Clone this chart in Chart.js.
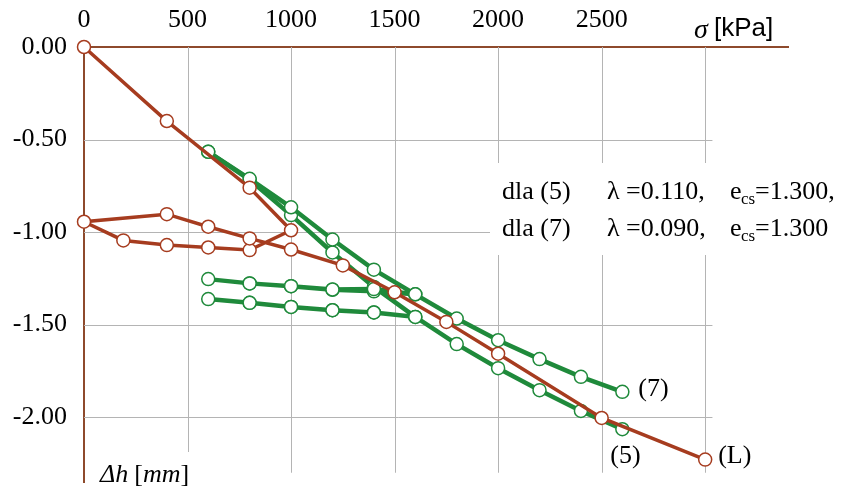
<!DOCTYPE html>
<html>
<head>
<meta charset="utf-8">
<script src="https://cdn.jsdelivr.net/npm/chart.js@4/dist/chart.umd.min.js"></script>
<style>
  html, body { margin: 0; padding: 0; background: #ffffff; }
  #wrap { width: 842px; height: 490px; }
</style>
</head>
<body>
<div id="wrap"><canvas id="c" width="842" height="490"></canvas></div>
<script>
// ---- data ----
// series (L): loading, unloading, reloading
const seriesL_x = [0, 400, 800, 1000, 800, 600, 400, 190, 0, 400, 600, 800, 1000, 1250, 1500, 1750, 2000, 2500, 3000];
const seriesL_y = [0.00, -0.40, -0.76, -0.99, -1.097, -1.083, -1.07, -1.045, -0.944, -0.903, -0.971, -1.034, -1.094, -1.18, -1.325, -1.485, -1.657, -2.004, -2.229];

// series (7)
const series7_x = [600, 800, 1000, 1200, 1400, 1600, 1400, 1200, 1000, 800, 600, 800, 1000, 1200, 1400, 1600, 1800, 2000, 2200, 2400, 2600];
const series7_y = [-0.566, -0.712, -0.866, -1.04, -1.203, -1.336, -1.32, -1.312, -1.292, -1.277, -1.254, -1.277, -1.292, -1.31, -1.308, -1.336, -1.467, -1.584, -1.686, -1.782, -1.863];

// series (5)
const series5_x = [600, 800, 1000, 1200, 1400, 1600, 1400, 1200, 1000, 800, 600, 800, 1000, 1200, 1400, 1600, 1800, 2000, 2200, 2400, 2600];
const series5_y = [-0.566, -0.718, -0.908, -1.11, -1.296, -1.458, -1.434, -1.422, -1.404, -1.382, -1.362, -1.382, -1.404, -1.422, -1.434, -1.458, -1.605, -1.735, -1.854, -1.966, -2.065];

// axis ticks
const xTickLabels = [0, 500, 1000, 1500, 2000, 2500];
const xGridValues = [500, 1000, 1500, 2000, 2500, 3000];
const yTickValues = [0, -0.5, -1.0, -1.5, -2.0];
const yGridValues = [-0.5, -1.0, -1.5, -2.0];

// texts
const seriesNames = ['(L)', '(7)', '(5)'];
const annotationRows = [
  { head: 'dla (5)', lam: '\u03BB =0.110,', e: '=1.300,' },
  { head: 'dla (7)', lam: '\u03BB =0.090,', e: '=1.300' }
];

// ---- styling ----
const BROWN = '#a63c1f';
const GREEN = '#1f8a3b';
const AXIS_BROWN = '#8e4a2c';
const GRID = '#b4b4b4';
const SERIF = "'Liberation Serif', 'Times New Roman', serif";
const SANS = "'Liberation Sans', Arial, sans-serif";

function pts(xs, ys) { return xs.map((x, i) => ({ x: x, y: ys[i] })); }

const decor = {
  id: 'decor',
  beforeDatasetsDraw(chart) {
    const ctx = chart.ctx;
    const xs = chart.scales.x, ys = chart.scales.y;
    ctx.save();
    ctx.strokeStyle = GRID;
    ctx.lineWidth = 1;
    const yTop = ys.getPixelForValue(0);
    const yBot = ys.getPixelForValue(-2.3);
    const xLeft = xs.getPixelForValue(0);
    const xRight = xs.getPixelForValue(3035);
    xGridValues.forEach(v => {
      const px = Math.round(xs.getPixelForValue(v)) + 0.5;
      ctx.beginPath(); ctx.moveTo(px, yTop); ctx.lineTo(px, yBot); ctx.stroke();
    });
    yGridValues.forEach(v => {
      const py = Math.round(ys.getPixelForValue(v)) + 0.5;
      ctx.beginPath(); ctx.moveTo(xLeft, py); ctx.lineTo(xRight, py); ctx.stroke();
    });
    // white boxes behind texts
    ctx.fillStyle = '#ffffff';
    ctx.fillRect(490, 163, 352, 92);
    ctx.fillRect(95, 452, 110, 38);
    ctx.restore();
  },
  afterDraw(chart) {
    const ctx = chart.ctx;
    const xs = chart.scales.x, ys = chart.scales.y;
    ctx.save();
    ctx.fillStyle = '#000000';
    ctx.textBaseline = 'alphabetic';
    ctx.textAlign = 'left';
    // annotation
    annotationRows.forEach((r, i) => {
      const base = 199 + i * 37;
      ctx.font = '26px ' + SERIF;
      ctx.fillText(r.head, 502, base);
      ctx.fillText(r.lam, 607, base);
      ctx.fillText('e', 730, base);
      ctx.font = '17px ' + SERIF;
      ctx.fillText('cs', 741, base + 5);
      ctx.font = '26px ' + SERIF;
      ctx.fillText(r.e, 755, base);
    });
    // series labels
    ctx.font = '26px ' + SERIF;
    ctx.textBaseline = 'middle';
    const lastL = [seriesL_x[seriesL_x.length - 1], seriesL_y[seriesL_y.length - 1]];
    const last7 = [series7_x[series7_x.length - 1], series7_y[series7_y.length - 1]];
    const last5 = [series5_x[series5_x.length - 1], series5_y[series5_y.length - 1]];
    ctx.fillText(seriesNames[0], xs.getPixelForValue(lastL[0]) + 13, ys.getPixelForValue(lastL[1]) - 3);
    ctx.fillText(seriesNames[1], xs.getPixelForValue(last7[0]) + 16, ys.getPixelForValue(last7[1]) - 3);
    ctx.fillText(seriesNames[2], xs.getPixelForValue(last5[0]) - 12, ys.getPixelForValue(last5[1]) + 27);
    // axis titles
    ctx.font = 'italic 28px ' + SERIF;
    ctx.fillText('\u03C3', 694, 31);
    ctx.font = '26px ' + SANS;
    ctx.fillText('[kPa]', 714, 29);
    // Δh [mm]
    let x0 = 100;
    const yb = 475;
    ctx.font = 'italic 26px ' + SERIF;
    ctx.fillText('\u0394h', x0, yb);
    x0 += ctx.measureText('\u0394h').width + 6;
    ctx.font = '26px ' + SERIF;
    ctx.fillText('[', x0, yb);
    x0 += ctx.measureText('[').width;
    ctx.font = 'italic 26px ' + SERIF;
    ctx.fillText('mm', x0, yb);
    x0 += ctx.measureText('mm').width;
    ctx.font = '26px ' + SERIF;
    ctx.fillText(']', x0, yb);
    ctx.restore();
  }
};

const lineDs = (label, data, color, order, width) => ({
  label: label,
  data: data,
  borderColor: color,
  backgroundColor: '#ffffff',
  borderWidth: width,
  pointRadius: 6.5,
  pointHoverRadius: 6.5,
  pointBorderWidth: 1.5,
  pointBackgroundColor: '#ffffff',
  pointBorderColor: color,
  tension: 0,
  showLine: true,
  fill: false,
  clip: false,
  order: order
});

new Chart(document.getElementById('c'), {
  type: 'scatter',
  data: {
    datasets: [
      lineDs('(L)', pts(seriesL_x, seriesL_y), BROWN, 0, 3.5),
      lineDs('(7)', pts(series7_x, series7_y), GREEN, 1, 4.5),
      lineDs('(5)', pts(series5_x, series5_y), GREEN, 2, 4.5)
    ]
  },
  options: {
    responsive: false,
    animation: false,
    devicePixelRatio: 1,
    layout: { padding: { left: 0, right: 54, top: 0, bottom: 0 } },
    plugins: { legend: { display: false }, tooltip: { enabled: false } },
    scales: {
      x: {
        type: 'linear',
        position: 'top',
        min: 0,
        max: 3400,
        afterFit: s => { s.height = 47; s.paddingLeft = 0; s.paddingRight = 0; },
        afterBuildTicks: s => { s.ticks = xTickLabels.map(v => ({ value: v })); },
        grid: { display: false, drawTicks: false },
        border: { display: true, color: AXIS_BROWN, width: 2 },
        ticks: {
          autoSkip: false,
          maxRotation: 0,
          padding: 11,
          color: '#000000',
          font: { family: SERIF, size: 26 },
          callback: v => String(v)
        }
      },
      y: {
        type: 'linear',
        position: 'left',
        min: -2.35,
        max: 0,
        afterFit: s => { s.width = 84; s.paddingTop = 0; s.paddingBottom = 0; },
        afterBuildTicks: s => { s.ticks = yTickValues.map(v => ({ value: v })); },
        grid: { display: false, drawTicks: false },
        border: { display: true, color: AXIS_BROWN, width: 2 },
        ticks: {
          autoSkip: false,
          padding: 17,
          color: '#000000',
          font: { family: SERIF, size: 26 },
          callback: v => Number(v).toFixed(2)
        }
      }
    }
  },
  plugins: [decor]
});
</script>
</body>
</html>
